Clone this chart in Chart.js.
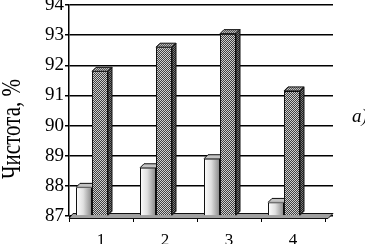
<!DOCTYPE html>
<html>
<head>
<meta charset="utf-8">
<script src="https://cdn.jsdelivr.net/npm/chart.js@4.4.0/dist/chart.umd.min.js"></script>
<style>
  html, body { margin: 0; padding: 0; background: #fff; }
</style>
</head>
<body>
<canvas id="chart" width="365" height="244"></canvas>
<script>
// data
const categories = ['1', '2', '3', '4'];
const lightValues = [87.95, 88.6, 88.9, 87.45];
const darkValues = [91.8, 92.6, 93.05, 91.15];
const yTicks = [87, 88, 89, 90, 91, 92, 93, 94];
const yTitle = 'Чистота, %';
const panelLabel = 'а)';

const serif = "'Liberation Serif', 'Times New Roman', serif";
const depth = { x: 4, y: 4 };   // 3d offset of top / side faces
const frontShift = -9;          // front plane sits a bit left of the back wall
const wallExtra = 8;            // back wall is wider than the front plane

const canvas = document.getElementById('chart');
const ctx = canvas.getContext('2d');

// fine checker like the scanned hatch
function makeHatch(dark, light) {
    const c = document.createElement('canvas');
    c.width = 2; c.height = 2;
    const g = c.getContext('2d');
    g.fillStyle = light; g.fillRect(0, 0, 2, 2);
    g.fillStyle = dark; g.fillRect(0, 0, 1, 1); g.fillRect(1, 1, 1, 1);
    return ctx.createPattern(c, 'repeat');
}
const hatch = makeHatch('#404040', '#cfcfcf');
const hatchTop = makeHatch('#555', '#bbb');
const hatchSide = makeHatch('#222', '#777');

// light bars: white on the left fading to grey
function lightFill(context) {
    const xs = context.chart.scales.x;
    if (!xs || context.dataIndex === undefined) return '#ddd';
    const cx = xs.getPixelForValue(context.dataIndex);
    if (!isFinite(cx)) return '#ddd';
    const g = context.chart.ctx.createLinearGradient(cx - 16, 0, cx, 0);
    g.addColorStop(0, '#ffffff');
    g.addColorStop(0.45, '#e0e0e0');
    g.addColorStop(1, '#858585');
    return g;
}

function face(c, pts, fill) {
    c.beginPath();
    c.moveTo(pts[0][0], pts[0][1]);
    for (let i = 1; i < pts.length; i++) c.lineTo(pts[i][0], pts[i][1]);
    c.closePath();
    c.fillStyle = fill;
    c.fill();
    c.strokeStyle = '#111';
    c.lineWidth = 1;
    c.stroke();
}

const threeD = {
    id: 'threeD',
    afterLayout(chart) {
        // categories live on the front plane, gridlines run on the back wall
        const xs = chart.scales.x;
        xs.right = chart.chartArea.right - wallExtra;
        xs.width = xs.right - xs.left;
        xs.configure();
    },
    beforeDatasetsDraw(chart) {
        const c = chart.ctx, a = chart.chartArea;
        // floor
        c.save();
        face(c, [
            [a.left, a.bottom + 2.5],
            [a.right - 5, a.bottom + 2.5],
            [a.right, a.bottom - 2.5],
            [a.left + 4, a.bottom - 2.5]
        ], '#a0a0a0');
        c.restore();
        c.save();
        c.translate(frontShift, 0);
    },
    afterDatasetsDraw(chart) {
        const c = chart.ctx;
        const light = chart.getDatasetMeta(0).data;
        const dark = chart.getDatasetMeta(1).data;
        light.forEach(bar => {
            const l = bar.x - bar.width / 2, r = bar.x + bar.width / 2;
            c.save();
            c.beginPath();
            c.rect(l - 1, bar.y - depth.y - 2, r - l + 1, depth.y + 2);
            c.clip();
            face(c, [[l, bar.y], [r, bar.y], [r + depth.x, bar.y - depth.y], [l + depth.x, bar.y - depth.y]], '#c4c4c4');
            c.restore();
        });
        dark.forEach(bar => {
            const l = bar.x - bar.width / 2, r = bar.x + bar.width / 2;
            face(c, [[l, bar.y], [r, bar.y], [r + depth.x, bar.y - depth.y], [l + depth.x, bar.y - depth.y]], hatchTop);
            face(c, [[r, bar.y], [r + depth.x, bar.y - depth.y], [r + depth.x, bar.base - depth.y], [r, bar.base]], hatchSide);
        });
        c.restore();
    },
    afterDraw(chart) {
        const c = chart.ctx;
        // axis title, rotated
        c.save();
        c.translate(20, 129);
        c.rotate(-Math.PI / 2);
        c.scale(1, 1.35);
        c.font = '21px ' + serif;
        c.fillStyle = '#000';
        c.textAlign = 'center';
        c.textBaseline = 'alphabetic';
        c.fillText(yTitle, 0, 0);
        c.restore();
        // panel letter
        c.save();
        c.font = 'italic 19px ' + serif;
        c.fillStyle = '#000';
        c.textAlign = 'left';
        c.textBaseline = 'alphabetic';
        c.fillText(panelLabel, 352, 122);
        c.restore();
    }
};

new Chart(ctx, {
    type: 'bar',
    data: {
        labels: categories,
        datasets: [
            {
                data: lightValues,
                base: yTicks[0],
                backgroundColor: lightFill,
                borderColor: '#111',
                borderWidth: 1,
                categoryPercentage: 0.5,
                barPercentage: 1,
                clip: false
            },
            {
                data: darkValues,
                base: yTicks[0],
                backgroundColor: hatch,
                borderColor: '#111',
                borderWidth: 1,
                categoryPercentage: 0.5,
                barPercentage: 1,
                clip: false
            }
        ]
    },
    options: {
        responsive: false,
        animation: false,
        devicePixelRatio: 1,
        layout: { padding: { top: 5, right: 32, bottom: 0, left: 0 } },
        plugins: {
            legend: { display: false },
            tooltip: { enabled: false }
        },
        scales: {
            x: {
                grid: { offset: true, drawOnChartArea: false, drawTicks: true, tickLength: 6, color: '#000', lineWidth: 1 },
                border: { display: false },
                ticks: { font: { family: serif, size: 17 }, color: '#000', padding: 8, maxRotation: 0 },
                afterFit(s) { s.height = 28; }
            },
            y: {
                min: yTicks[0],
                max: yTicks[yTicks.length - 1],
                afterBuildTicks(s) { s.ticks = yTicks.map(v => ({ value: v })); },
                ticks: { font: { family: serif, size: 19 }, color: '#000', padding: 1 },
                grid: { color: '#000', lineWidth: 1.5, tickLength: 4 },
                border: { display: true, color: '#000', width: 1.5 },
                afterFit(s) {
                    s.width = 69;
                    s.paddingTop = 0;
                    s.paddingBottom = 0;
                }
            }
        }
    },
    plugins: [threeD]
});
</script>
</body>
</html>
